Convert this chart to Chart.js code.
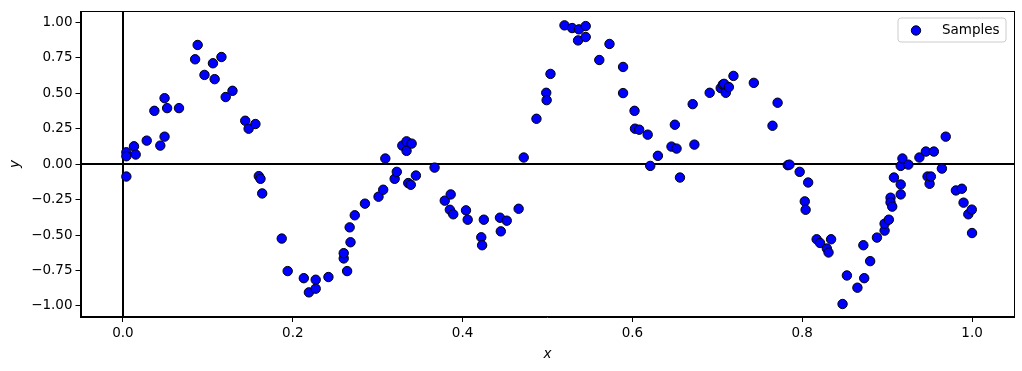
<!DOCTYPE html>
<html><head><meta charset="utf-8">
<script src="https://cdn.jsdelivr.net/npm/chart.js@4"></script>
<style>html,body{margin:0;padding:0;background:#fff}#wrap{width:1022px;height:371px}</style>
</head><body><div id="wrap"><canvas id="c" width="1022" height="371"></canvas></div>
<script>
const xs = [0.004,0.004,0.004,0.013,0.015,0.028,0.037,0.044,0.049,0.049,0.052,0.066,0.085,0.088,0.096,0.106,0.108,0.116,0.121,0.129,0.144,0.148,0.156,0.160,0.162,0.164,0.187,0.194,0.213,0.219,0.227,0.227,0.242,0.260,0.260,0.264,0.268,0.267,0.273,0.285,0.301,0.3065,0.309,0.320,0.3225,0.329,0.334,0.334,0.340,0.336,0.339,0.345,0.367,0.379,0.386,0.385,0.389,0.404,0.406,0.422,0.423,0.425,0.444,0.445,0.452,0.466,0.472,0.487,0.4985,0.499,0.5035,0.520,0.529,0.537,0.545,0.536,0.545,0.561,0.573,0.589,0.589,0.6025,0.603,0.608,0.618,0.621,0.630,0.646,0.650,0.652,0.656,0.671,0.673,0.691,0.704,0.7065,0.708,0.710,0.7136,0.719,0.743,0.765,0.771,0.783,0.785,0.797,0.803,0.804,0.807,0.817,0.821,0.829,0.831,0.834,0.8475,0.8526,0.865,0.872,0.873,0.880,0.888,0.897,0.897,0.902,0.904,0.904,0.906,0.908,0.916,0.916,0.916,0.918,0.925,0.938,0.9456,0.9476,0.950,0.9515,0.955,0.9645,0.969,0.981,0.988,0.990,0.9956,0.9997,1.000];
const ys = [0.083,0.055,-0.088,0.125,0.067,0.165,0.375,0.13,0.193,0.464,0.394,0.394,0.738,0.839,0.628,0.71,0.598,0.754,0.472,0.516,0.305,0.249,0.282,-0.085,-0.104,-0.207,-0.525,-0.754,-0.804,-0.904,-0.815,-0.878,-0.796,-0.665,-0.628,-0.754,-0.551,-0.446,-0.361,-0.279,-0.230,-0.181,0.039,-0.104,-0.055,0.13,0.16,0.093,0.144,-0.134,-0.146,-0.081,-0.025,-0.258,-0.214,-0.322,-0.354,-0.326,-0.392,-0.516,-0.572,-0.392,-0.378,-0.474,-0.399,-0.315,0.046,0.319,0.502,0.45,0.635,0.977,0.958,0.949,0.972,0.871,0.895,0.733,0.846,0.684,0.5,0.375,0.249,0.242,0.207,-0.013,0.058,0.123,0.277,0.109,-0.095,0.422,0.137,0.502,0.535,0.56,0.565,0.502,0.542,0.621,0.572,0.27,0.432,-0.008,-0.004,-0.055,-0.263,-0.322,-0.13,-0.53,-0.556,-0.595,-0.623,-0.53,-0.986,-0.785,-0.871,-0.572,-0.804,-0.684,-0.518,-0.469,-0.42,-0.392,-0.237,-0.27,-0.30,-0.095,-0.144,-0.214,-0.013,0.039,-0.004,0.046,0.088,-0.088,-0.139,-0.088,0.088,-0.032,0.193,-0.186,-0.174,-0.272,-0.354,-0.321,-0.486];
const xTicks = [0.0,0.2,0.4,0.6,0.8,1.0];
const yTicks = [-1.00,-0.75,-0.50,-0.25,0.00,0.25,0.50,0.75,1.00];
const seriesLabel = 'Samples';

const points = xs.map((x,i)=>({x:x,y:ys[i]}));
const FONT = 'DejaVu Sans';

const framePlugin = {
  id:'frame',
  beforeDatasetsDraw(chart){
    const {ctx, chartArea:a, scales:{x,y}} = chart;
    ctx.save();
    ctx.strokeStyle='#000'; ctx.lineWidth=2;
    const y0 = Math.round(y.getPixelForValue(0));
    const x0 = Math.round(x.getPixelForValue(0));
    ctx.beginPath(); ctx.moveTo(a.left,y0); ctx.lineTo(a.right,y0); ctx.stroke();
    ctx.beginPath(); ctx.moveTo(x0,a.top); ctx.lineTo(x0,a.bottom); ctx.stroke();
    ctx.restore();
  },
  afterDraw(chart){
    const {ctx, chartArea:a} = chart;
    ctx.save();
    ctx.strokeStyle='#000'; ctx.lineWidth=1;
    ctx.strokeRect(Math.round(a.left)+0.5, Math.round(a.top)+0.5, Math.round(a.right-a.left)-1, Math.round(a.bottom-a.top)-1);
    // legend
    const lx=898, ly=18, lw=108, lh=24, r=3;
    ctx.fillStyle='rgba(255,255,255,0.8)';
    ctx.strokeStyle='#cccccc';
    ctx.beginPath();
    ctx.moveTo(lx+r,ly); ctx.lineTo(lx+lw-r,ly); ctx.arcTo(lx+lw,ly,lx+lw,ly+r,r);
    ctx.lineTo(lx+lw,ly+lh-r); ctx.arcTo(lx+lw,ly+lh,lx+lw-r,ly+lh,r);
    ctx.lineTo(lx+r,ly+lh); ctx.arcTo(lx,ly+lh,lx,ly+lh-r,r);
    ctx.lineTo(lx,ly+r); ctx.arcTo(lx,ly,lx+r,ly,r); ctx.closePath();
    ctx.fill(); ctx.stroke();
    ctx.beginPath(); ctx.arc(916,30.5,4.7,0,Math.PI*2);
    ctx.fillStyle='#0000ff'; ctx.fill(); ctx.strokeStyle='#000'; ctx.lineWidth=1; ctx.stroke();
    ctx.fillStyle='#000'; ctx.font='13.5px "'+FONT+'"'; ctx.textBaseline='middle'; ctx.textAlign='left';
    ctx.fillText(seriesLabel, 942, 30.5);
    ctx.restore();
  }
};

new Chart(document.getElementById('c'), {
  type:'scatter',
  data:{datasets:[{label:seriesLabel, data:points, backgroundColor:'#0000ff', borderColor:'#000', borderWidth:1, pointRadius:4.7, pointHoverRadius:4.7}]},
  options:{
    responsive:false, animation:false, events:[],
    layout:{padding:{left:7,right:7.5,top:10,bottom:8}},
    plugins:{legend:{display:false}, tooltip:{enabled:false}},
    scales:{
      x:{type:'linear', min:-0.05, max:1.05,
        afterBuildTicks(s){ s.ticks = xTicks.map(v=>({value:v})); },
        afterFit(s){ s.height = 46; },
        ticks:{color:'#000', font:{family:FONT,size:13.5}, padding:3, maxRotation:0, autoSkip:false,
          callback:v=>v.toFixed(1)},
        grid:{drawOnChartArea:false, drawTicks:true, tickLength:5, color:'#000', tickWidth:1},
        border:{display:true,color:'#000',width:1},
        title:{display:true, text:'x', color:'#000', font:{family:FONT,size:13.5,style:'italic'}, padding:{top:2,bottom:0}}
      },
      y:{type:'linear', min:-1.0775, max:1.0775,
        afterBuildTicks(s){ s.ticks = yTicks.map(v=>({value:v})); },
        afterFit(s){ s.width = 73.5; },
        ticks:{color:'#000', font:{family:FONT,size:13.5}, padding:3, autoSkip:false,
          callback:v=>(v<0?'\u2212':'')+Math.abs(v).toFixed(2)},
        grid:{drawOnChartArea:false, drawTicks:true, tickLength:5, color:'#000', tickWidth:1},
        border:{display:true,color:'#000',width:1},
        title:{display:true, text:'y', color:'#000', font:{family:FONT,size:13.5,style:'italic'}, padding:{top:0,bottom:2}}
      }
    }
  },
  plugins:[framePlugin]
});
</script>
</body></html>
